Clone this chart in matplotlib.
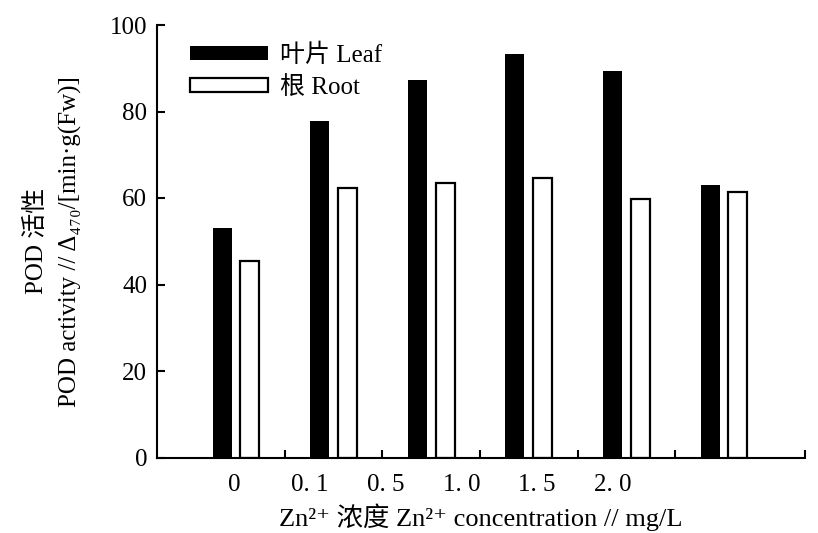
import matplotlib
matplotlib.use("Agg")
import matplotlib.pyplot as plt
import numpy as np

categories = ["0", "0.1", "0.5", "1.0", "1.5", "2.0"]
tick_labels = ["0", "0. 1", "0. 5", "1. 0", "1. 5", "2. 0"]
leaf = [53.1, 77.7, 87.3, 93.3, 89.3, 62.9]
root = [45.5, 62.2, 63.4, 64.7, 59.7, 61.5]
series_names = ["叶片 Leaf", "根 Root"]
yticks = [0, 20, 40, 60, 80, 100]

FAM = ["Liberation Serif", "Noto Sans CJK SC", "DejaVu Serif"]
plt.rcParams["font.family"] = FAM

fig = plt.figure(figsize=(8.18, 5.33), dpi=100)
W, H = 818, 533
left, right, bottom, top = 157, 805, 457.5, 25
ax = fig.add_axes([left / W, 1 - bottom / H, (right - left) / W, (bottom - top) / H])

x = np.arange(len(categories))
bw = 0.195
off = 0.142
ax.bar(x - off, leaf, width=bw, color="black", edgecolor="black", linewidth=0, label=series_names[0])
ax.bar(x + off, root, width=bw, color="white", edgecolor="black", linewidth=1.6, label=series_names[1])

xmax = 5.83
ax.set_xlim(-0.81, xmax)
ax.set_ylim(0, 100)

for s in ["top", "right"]:
    ax.spines[s].set_visible(False)
for s in ["left", "bottom"]:
    ax.spines[s].set_linewidth(1.5)

ax.set_yticks(yticks)
ax.set_yticklabels([str(v) for v in yticks], fontsize=18)
ax.tick_params(axis="y", direction="in", length=6, width=1.5, pad=7)

# category labels (placed with their own spacing, as in the reference)
label_pos = np.arange(len(categories)) * 0.776 - 0.02
ax.set_xticks(label_pos)
ax.set_xticklabels(tick_labels, fontsize=18)
ax.tick_params(axis="x", which="major", length=0, pad=12)
minor = list(np.arange(len(categories) - 1) + 0.5) + [xmax]
ax.set_xticks(minor, minor=True)
ax.tick_params(axis="x", which="minor", direction="in", length=6, width=1.5)

ax.set_xlabel("Zn²⁺ 浓度 Zn²⁺ concentration // mg/L", fontsize=19, labelpad=5)
ax.set_ylabel("POD 活性\nPOD activity // Δ₄₇₀/[min·g(Fw)]", fontsize=18, labelpad=20, linespacing=1.6)

leg = ax.legend(loc="upper left", bbox_to_anchor=(0.051, 0.957), frameon=False,
                fontsize=18, handlelength=3.1, handleheight=0.45, handletextpad=0.5,
                labelspacing=0.35, borderpad=0, borderaxespad=0)

fig.savefig("out.png", dpi=100)
